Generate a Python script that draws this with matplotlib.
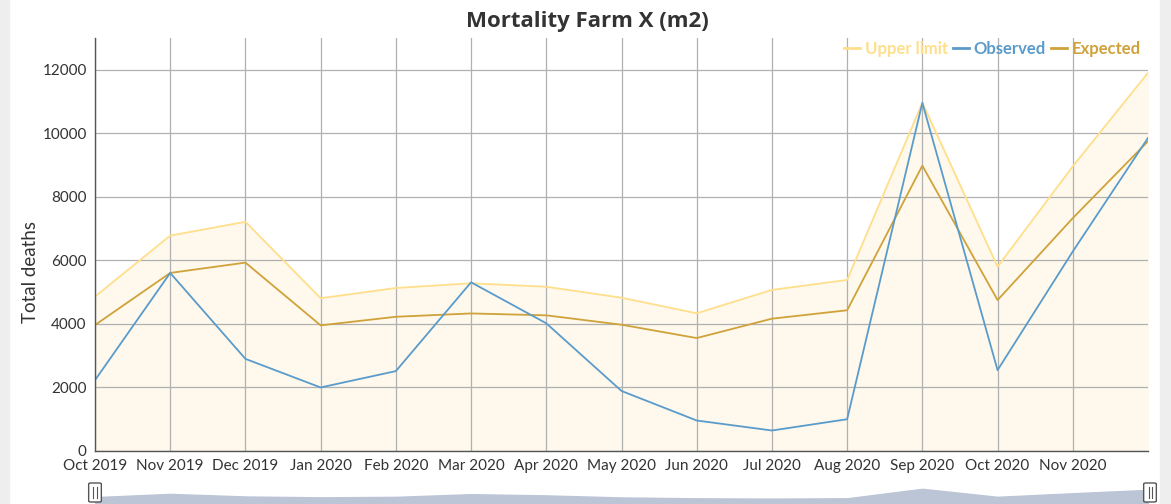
import matplotlib.pyplot as plt
import matplotlib.patches as mpatches
import numpy as np

plt.rcParams['font.family'] = ['Lato', 'DejaVu Sans']

months = ['Oct 2019', 'Nov 2019', 'Dec 2019', 'Jan 2020', 'Feb 2020', 'Mar 2020',
          'Apr 2020', 'May 2020', 'Jun 2020', 'Jul 2020', 'Aug 2020', 'Sep 2020',
          'Oct 2020', 'Nov 2020', 'Dec 2020']
upper_limit = [4860, 6780, 7215, 4810, 5130, 5280, 5170, 4825, 4335, 5070, 5385, 10960, 5800, 8960, 11905]
observed = [2230, 5605, 2900, 2000, 2515, 5310, 4020, 1890, 960, 645, 1000, 10960, 2545, 6280, 9855]
expected = [3965, 5605, 5930, 3955, 4225, 4330, 4270, 3975, 3555, 4165, 4430, 8980, 4750, 7330, 9750]

c_upper = '#FFDF8C'
c_obs = '#5A9BCB'
c_exp = '#CFA23A'
txt = '#333333'

W, H = 1171, 504
fig = plt.figure(figsize=(W / 100, H / 100), dpi=100)

# page borders
fig.patches.append(mpatches.Rectangle((0, 0), 9 / W, 1, transform=fig.transFigure, color='#eeeeee', zorder=0))
fig.patches.append(mpatches.Rectangle((1160 / W, 0), 11 / W, 1, transform=fig.transFigure, color='#eeeeee', zorder=0))

ax = fig.add_axes([95 / W, 1 - 451 / H, (1148 - 95) / W, (451 - 38) / H])
x = np.arange(len(months))

ax.fill_between(x, 0, upper_limit, color='#FEF9EC', zorder=1)
ax.plot(x, upper_limit, color=c_upper, lw=1.3, label='Upper limit', zorder=3)
ax.plot(x, observed, color=c_obs, lw=1.3, label='Observed', zorder=4)
ax.plot(x, expected, color=c_exp, lw=1.3, label='Expected', zorder=3)

ax.set_xlim(0, len(months) - 1)
ax.set_ylim(0, 13000)
ax.set_xticks(x[:-1])
ax.set_xticklabels(months[:-1], fontsize=11, color=txt)
ax.set_yticks(range(0, 12001, 2000))
ax.set_yticklabels([str(v) for v in range(0, 12001, 2000)], fontsize=11, color=txt)
ax.tick_params(length=0, pad=6)
ax.grid(True, color='#b0b0b0', lw=0.9, zorder=2)
ax.set_axisbelow(False)
for s in ['top', 'right']:
    ax.spines[s].set_visible(False)
for s in ['left', 'bottom']:
    ax.spines[s].set_color('#555555')
    ax.spines[s].set_linewidth(1.0)
    ax.spines[s].set_zorder(5)

ax.set_ylabel('Total deaths', fontsize=13.5, color=txt)
ax.yaxis.set_label_coords(-(95 - 39) / 1053, 0.433)
fig.text(0.502, 1 - 22 / H, 'Mortality Farm X (m2)', fontsize=16, fontweight='bold', color=txt,
         ha='center', va='center', family=['Open Sans', 'DejaVu Sans'])

leg = ax.legend(loc='upper right', bbox_to_anchor=(1.004, 1.022), ncol=3, frameon=False,
                borderpad=0.2, handlelength=1.0, handletextpad=0.25, columnspacing=0.3,
                prop={'weight': 'bold', 'size': 12})
for t, c in zip(leg.get_texts(), [c_upper, c_obs, c_exp]):
    t.set_color(c)
for lh in leg.get_lines():
    lh.set_linewidth(2)

# navigator strip
nav = fig.add_axes([95 / W, 0, (1148 - 95) / W, 20 / H])
nav.fill_between(x, -5000, observed, color='#bcc5d6', zorder=1)
nav.set_xlim(0, len(months) - 1)
nav.set_ylim(-5000, 16000)
nav.axis('off')
for hx in [95, 1150]:
    fig.patches.append(mpatches.FancyBboxPatch(((hx - 4) / W, 3 / H), 8 / W, 17 / H,
                                               boxstyle='round,pad=0.002', transform=fig.transFigure,
                                               facecolor='white', edgecolor='#555555', lw=1, zorder=5))
    for dx in [-1.5, 1.5]:
        fig.lines.append(plt.Line2D([(hx + dx) / W] * 2, [6 / H, 17 / H], transform=fig.transFigure,
                                    color='#555555', lw=0.8, zorder=6))

fig.savefig('out.png', dpi=100)
